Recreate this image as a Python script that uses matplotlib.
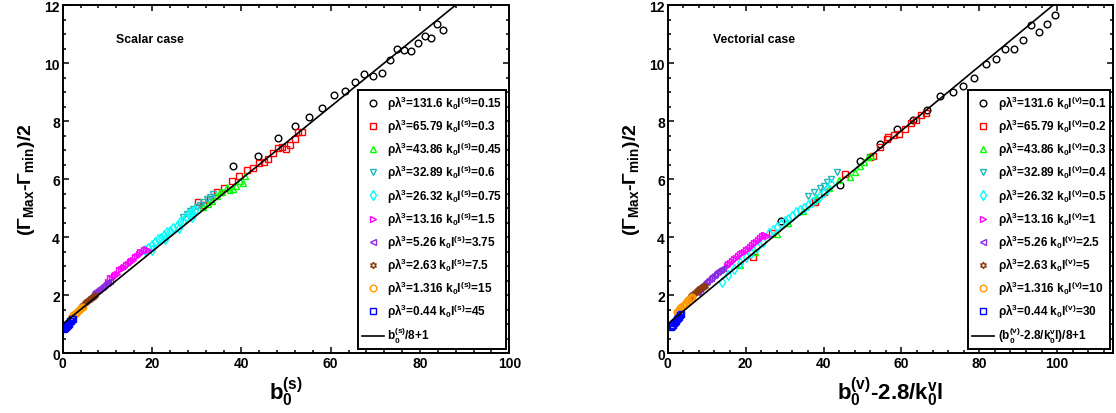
import matplotlib
matplotlib.use("Agg")
import matplotlib.pyplot as plt
import numpy as np
from matplotlib.ticker import MultipleLocator

plt.rcParams['font.family'] = ['Liberation Sans', 'DejaVu Sans']
plt.rcParams['font.weight'] = 'bold'
plt.rcParams['mathtext.fontset'] = 'custom'
plt.rcParams['mathtext.rm'] = 'Liberation Sans:bold'
plt.rcParams['mathtext.it'] = 'Liberation Sans:bold'
plt.rcParams['mathtext.bf'] = 'Liberation Sans:bold'
plt.rcParams['mathtext.sf'] = 'Liberation Sans:bold'

# ---- scalar case (left) ----
s_black_x = [38.2, 43.8, 48.2, 52.0, 55.2, 58.1, 60.7, 63.1, 65.4, 67.5, 69.5, 71.4, 73.2, 74.9, 76.4, 78.0, 79.6, 81.1, 82.5, 83.7, 85.1]
s_black_y = [6.46, 6.80, 7.41, 7.82, 8.13, 8.44, 8.90, 9.04, 9.36, 9.62, 9.56, 9.66, 10.10, 10.48, 10.45, 10.42, 10.69, 10.92, 10.86, 11.34, 11.14]
s_red_x = [30.3, 31.5, 33.0, 34.5, 36.0, 37.9, 39.4, 41.2, 42.5, 43.9, 45.0, 46.0, 47.1, 48.2, 49.1, 50.1, 51.0, 52.0, 52.7, 53.6]
s_red_y = [5.20, 5.10, 5.30, 5.54, 5.70, 5.94, 6.11, 6.31, 6.37, 6.55, 6.58, 6.69, 6.90, 7.07, 7.11, 7.03, 7.17, 7.38, 7.61, 7.63]
s_green_x = [31.5, 32.5, 33.5, 34.5, 35.2, 35.6, 36.7, 37.5, 38.2, 38.9, 39.7, 40.3, 40.8]
s_green_y = [5.05, 5.15, 5.25, 5.40, 5.54, 5.56, 5.71, 5.62, 5.66, 5.77, 5.94, 5.85, 6.11]
s_teal_x = [27.0, 27.8, 28.5, 29.2, 30.0, 30.7, 31.4, 32.2, 32.9, 33.7]
s_teal_y = [4.70, 4.80, 4.90, 4.97, 5.05, 5.12, 5.22, 5.31, 5.38, 5.48]
s_cyan_x = [18.5, 19.2, 19.9, 20.0, 20.6, 21.3, 22.0, 22.7, 23.0, 23.4, 24.1, 24.8, 25.5, 26.0, 26.2, 26.9, 27.6, 28.3, 29.0, 29.0, 29.7]
s_cyan_y = [3.55, 3.62, 3.72, 3.55, 3.82, 3.93, 3.98, 4.06, 3.92, 4.16, 4.22, 4.30, 4.38, 4.30, 4.51, 4.55, 4.68, 4.80, 4.86, 4.70, 4.92]
s_mag_x = [10.2, 10.6, 11.0, 11.4, 11.8, 12.2, 12.6, 13.0, 13.4, 13.8, 14.2, 14.6, 15.0, 15.4, 15.8, 16.2, 16.6, 17.0, 17.4, 17.8, 18.2, 18.6, 19.0]
s_mag_y = [2.45, 2.58, 2.60, 2.65, 2.70, 2.74, 2.86, 2.88, 2.92, 2.98, 3.02, 3.07, 3.13, 3.18, 3.22, 3.30, 3.33, 3.40, 3.47, 3.50, 3.55, 3.59, 3.55]
s_purp_x = [6.3, 6.6, 6.9, 7.2, 7.5, 7.8, 8.1, 8.4, 8.7, 9.0, 9.3, 9.6, 9.9, 10.2, 10.5]
s_purp_y = [1.92, 1.98, 2.04, 2.09, 2.13, 2.17, 2.21, 2.25, 2.29, 2.32, 2.36, 2.40, 2.43, 2.46, 2.48]
s_brown_x = [4.3, 4.6, 4.9, 5.2, 5.5, 5.8, 6.1, 6.4, 6.7, 7.0, 7.3]
s_brown_y = [1.62, 1.66, 1.71, 1.75, 1.79, 1.83, 1.87, 1.90, 1.94, 1.97, 2.00]
s_orange_x = [1.8, 2.1, 2.4, 2.7, 3.0, 3.3, 3.6, 3.9, 4.2, 4.5]
s_orange_y = [1.20, 1.25, 1.30, 1.35, 1.39, 1.43, 1.47, 1.51, 1.55, 1.59]
s_blue_x = [0.3, 0.5, 0.7, 0.9, 1.1, 1.3, 1.5, 1.7, 1.9, 2.1, 2.3]
s_blue_y = [0.82, 0.86, 0.89, 0.93, 0.97, 1.01, 1.05, 1.09, 1.12, 1.16, 1.19]

# ---- vectorial case (right) ----
v_black_x = [29.0, 44.2, 49.4, 54.5, 58.9, 62.9, 66.5, 69.9, 73.2, 75.9, 78.7, 81.6, 84.2, 86.5, 88.9, 91.1, 93.2, 95.4, 97.4, 99.4]
v_black_y = [4.56, 5.80, 6.63, 7.21, 7.72, 8.05, 8.38, 8.85, 9.01, 9.20, 9.47, 9.95, 10.14, 10.48, 10.48, 10.80, 11.31, 11.06, 11.34, 11.66]
v_red_x = [21.8, 26.7, 37.8, 40.1, 45.5, 52.0, 52.8, 54.5, 56.2, 56.6, 58.1, 59.4, 60.9, 62.4, 63.7, 65.0, 66.3]
v_red_y = [3.30, 4.14, 5.20, 5.54, 6.17, 6.75, 6.80, 7.09, 7.38, 7.44, 7.52, 7.55, 7.72, 7.93, 8.05, 8.21, 8.27]
v_green_x = [18.6, 22.4, 28.0, 31.0, 34.8, 38.0, 41.5, 44.0, 46.8, 48.0, 49.4, 50.5, 51.5, 52.2]
v_green_y = [3.05, 3.47, 4.10, 4.50, 4.88, 5.30, 5.70, 5.95, 6.06, 6.25, 6.45, 6.60, 6.75, 6.80]
v_teal_x = [36.0, 37.5, 39.0, 40.0, 41.0, 42.0, 43.4]
v_teal_y = [5.40, 5.55, 5.70, 5.77, 5.90, 6.00, 6.23]
v_cyan_x = [14.0, 15.5, 17.0, 18.5, 20.0, 21.5, 23.0, 24.5, 26.0, 27.0, 28.0, 29.0, 30.0, 31.0, 32.0, 33.0, 34.0, 35.0, 36.0, 37.0, 38.0, 39.0, 40.0, 41.0, 42.0]
v_cyan_y = [2.45, 2.70, 2.90, 3.10, 3.30, 3.45, 3.65, 3.82, 4.15, 4.25, 4.33, 4.45, 4.55, 4.62, 4.72, 4.85, 4.92, 5.00, 5.10, 5.22, 5.30, 5.42, 5.55, 5.65, 5.82]
v_mag_x = [15.1, 15.6, 16.1, 16.6, 17.1, 17.6, 18.1, 18.6, 19.1, 19.6, 20.1, 20.6, 21.1, 21.6, 22.1, 22.6, 23.1, 23.6, 24.1, 24.6, 25.1, 25.6]
v_mag_y = [3.00, 3.08, 3.12, 3.17, 3.24, 3.28, 3.34, 3.40, 3.44, 3.50, 3.56, 3.60, 3.66, 3.72, 3.78, 3.83, 3.90, 3.96, 4.05, 4.08, 4.06, 4.02]
v_purp_x = [7.4, 7.8, 8.2, 8.6, 9.0, 9.4, 9.8, 10.2, 10.6, 11.0, 11.4, 11.8, 12.2, 12.6, 13.0, 13.4, 13.8, 14.3]
v_purp_y = [2.09, 2.15, 2.20, 2.27, 2.33, 2.38, 2.44, 2.50, 2.55, 2.60, 2.65, 2.70, 2.74, 2.78, 2.82, 2.85, 2.88, 2.92]
v_brown_x = [5.7, 6.0, 6.3, 6.6, 6.9, 7.2, 7.5, 7.8, 8.1, 8.4, 8.7, 9.0, 9.3, 9.6]
v_brown_y = [1.90, 1.95, 1.99, 2.03, 2.06, 2.10, 2.14, 2.17, 2.21, 2.24, 2.27, 2.29, 2.31, 2.32]
v_orange_x = [2.3, 2.6, 2.9, 3.2, 3.5, 3.8, 4.1, 4.4, 4.7, 5.0, 5.3, 5.6, 5.9, 6.2]
v_orange_y = [1.40, 1.45, 1.50, 1.54, 1.58, 1.62, 1.66, 1.70, 1.74, 1.78, 1.82, 1.86, 1.89, 1.93]
v_blue_x = [0.8, 1.05, 1.3, 1.55, 1.8, 2.05, 2.3, 2.55, 2.8, 3.05, 3.3]
v_blue_y = [0.88, 0.92, 0.97, 1.02, 1.06, 1.11, 1.16, 1.20, 1.25, 1.30, 1.34]

rho = ["131.6", "65.79", "43.86", "32.89", "26.32", "13.16", "5.26", "2.63", "1.316", "0.44"]
kl_s = ["0.15", "0.3", "0.45", "0.6", "0.75", "1.5", "3.75", "7.5", "15", "45"]
kl_v = ["0.1", "0.2", "0.3", "0.4", "0.5", "1", "2.5", "5", "10", "30"]

# straight line y = x/div + 1
fit_s = 8.
fit_v = 9.

colors = ['black', 'red', '#00ff00', '#20b8b8', '#00ffff', '#ff00ff', '#8a2be2', '#8b3a0e', '#ff9900', '#0000ff']
markers = ['o', 's', '^', 'v', 'd', '>', '<', (6, 1, 0), 'o', 's']

s_data = [(s_black_x, s_black_y), (s_red_x, s_red_y), (s_green_x, s_green_y), (s_teal_x, s_teal_y),
          (s_cyan_x, s_cyan_y), (s_mag_x, s_mag_y), (s_purp_x, s_purp_y), (s_brown_x, s_brown_y),
          (s_orange_x, s_orange_y), (s_blue_x, s_blue_y)]
v_data = [(v_black_x, v_black_y), (v_red_x, v_red_y), (v_green_x, v_green_y), (v_teal_x, v_teal_y),
          (v_cyan_x, v_cyan_y), (v_mag_x, v_mag_y), (v_purp_x, v_purp_y), (v_brown_x, v_brown_y),
          (v_orange_x, v_orange_y), (v_blue_x, v_blue_y)]

fig = plt.figure(figsize=(11.16, 4.14), dpi=100)
ax1 = fig.add_axes([0.0562, 0.1449, 0.4002, 0.8406])
ax2 = fig.add_axes([0.5983, 0.1449, 0.3993, 0.8406])


def draw(ax, data, kl, tag, div, xmax, linelabel):
    for i, (x, y) in enumerate(data):
        ax.plot(x, y, linestyle='none', marker=markers[i], markersize=4.8,
                markerfacecolor='none', markeredgecolor=colors[i], markeredgewidth=1.0,
                label="ρλ$^3$=" + rho[i] + " k$_0$l$^{(" + tag + ")}$=" + kl[i])
    xl = np.array([0., 110.])
    ax.plot(xl, xl / div + 1, color='black', lw=1.2, label=linelabel)
    ax.set_xlim(0, xmax)
    ax.set_ylim(0, 12)
    ax.xaxis.set_major_locator(MultipleLocator(20))
    ax.xaxis.set_minor_locator(MultipleLocator(4))
    ax.yaxis.set_major_locator(MultipleLocator(2))
    ax.yaxis.set_minor_locator(MultipleLocator(0.5))
    ax.tick_params(which='both', direction='in', top=True, right=True, labelsize=10, width=1.1)
    ax.tick_params(which='major', length=4, pad=2)
    ax.tick_params(which='minor', length=2.2)
    for lab in ax.get_xticklabels() + ax.get_yticklabels():
        lab.set_fontweight('bold')
    for sp in ax.spines.values():
        sp.set_linewidth(1.4)
    ax.set_ylabel("(Γ$_{Max}$-Γ$_{min}$)/2", fontsize=14, fontweight='bold', labelpad=5)
    leg = ax.legend(loc='lower right', bbox_to_anchor=(0.993, 0.0115),
                    prop={'size': 8.5, 'weight': 'bold'}, frameon=True, fancybox=False,
                    framealpha=1, edgecolor='black', handlelength=1.9, handletextpad=0.3,
                    labelspacing=0.42, borderpad=0.3, borderaxespad=0)
    leg.get_frame().set_linewidth(1.4)
    return leg


leg1 = draw(ax1, s_data, kl_s, 's', fit_s, 100, "b$_0^{(s)}$/8+1")
leg2 = draw(ax2, v_data, kl_v, 'v', fit_v, 114.4, "(b$_0^{(v)}$-2.8/k$_0^v$l)/8+1")

ax1.set_xlabel("b$_0^{(s)}$", fontsize=16, fontweight='bold', labelpad=3)
ax2.set_xlabel("b$_0^{(v)}$-2.8/k$_0^v$l", fontsize=16, fontweight='bold', labelpad=3)
ax1.text(0.119, 0.902, "Scalar case", transform=ax1.transAxes, fontsize=8.8, fontweight='bold', va='center')
ax2.text(0.101, 0.902, "Vectorial case", transform=ax2.transAxes, fontsize=8.8, fontweight='bold', va='center')

fig.savefig("out.png", dpi=100)
